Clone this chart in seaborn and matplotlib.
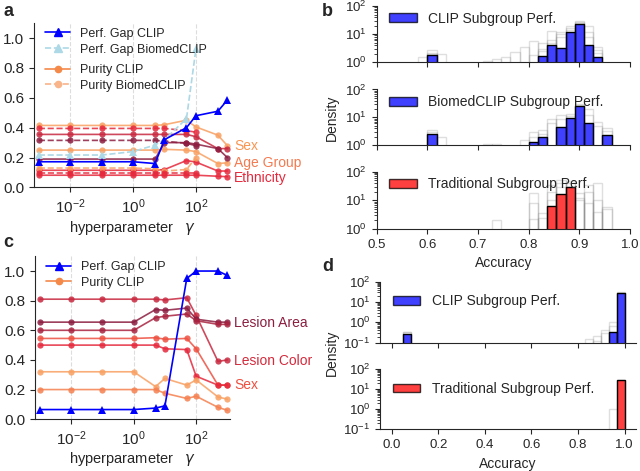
import numpy as np
import matplotlib
matplotlib.use("Agg")
import matplotlib.pyplot as plt
import matplotlib.transforms as mtransforms
from matplotlib.patches import Patch
from matplotlib.lines import Line2D
from matplotlib.ticker import NullLocator
import seaborn as sns

sns.set_style("ticks")
plt.rcParams['font.family'] = ['Liberation Sans', 'DejaVu Sans']
plt.rcParams['xtick.labelsize'] = 9.5
plt.rcParams['ytick.labelsize'] = 9.5

# ---------------- panel a / c data ----------------
gamma = [1e-3, 1e-2, 1e-1, 1, 5, 10, 50, 100, 500, 1000]
gamma_biomed = gamma[:8]

gap_clip_a = [0.172, 0.172, 0.172, 0.172, 0.16, 0.32, 0.40, 0.48, 0.51, 0.585]
gap_biomed_a = [0.217, 0.217, 0.217, 0.24, 0.284, 0.32, 0.46, 0.926]

# purity, CLIP (solid)
pur_a_sex1 = [0.415, 0.415, 0.415, 0.415, 0.415, 0.42, 0.45, 0.405, 0.35, 0.28]
pur_a_sex2 = [0.25, 0.25, 0.25, 0.25, 0.25, 0.255, 0.25, 0.24, 0.16, 0.165]
pur_a_age1 = [0.355, 0.355, 0.355, 0.355, 0.355, 0.355, 0.355, 0.34, 0.26, 0.26]
pur_a_age2 = [0.19, 0.19, 0.19, 0.19, 0.19, 0.30, 0.30, 0.29, 0.26, 0.20]
pur_a_eth1 = [0.115, 0.115, 0.115, 0.115, 0.115, 0.12, 0.18, 0.17, 0.11, 0.11]
pur_a_eth2 = [0.082, 0.082, 0.082, 0.082, 0.082, 0.082, 0.082, 0.082, 0.075, 0.072]
# purity, BiomedCLIP (dashed)
pur_a_sex_bm = [0.13, 0.13, 0.13, 0.13, 0.125, 0.11, 0.12, 0.20]
pur_a_age1_bm = [0.395, 0.395, 0.395, 0.395, 0.395, 0.395, 0.38, 0.37]
pur_a_age2_bm = [0.315, 0.315, 0.315, 0.315, 0.315, 0.31, 0.295, 0.28]
pur_a_eth_bm = [0.10, 0.10, 0.10, 0.10, 0.10, 0.10, 0.10, 0.10]

gap_clip_c = [0.065, 0.065, 0.065, 0.065, 0.075, 0.09, 0.95, 1.0, 1.0, 0.97]
pur_c_color = [0.81, 0.81, 0.81, 0.81, 0.81, 0.805, 0.82, 0.70, 0.39, 0.40]
pur_c_area1 = [0.655, 0.655, 0.655, 0.655, 0.74, 0.735, 0.75, 0.675, 0.655, 0.655]
pur_c_area2 = [0.60, 0.60, 0.60, 0.60, 0.685, 0.695, 0.71, 0.665, 0.64, 0.64]
pur_c_sex1 = [0.545, 0.545, 0.545, 0.545, 0.55, 0.54, 0.545, 0.475, 0.23, 0.23]
pur_c_sex2 = [0.50, 0.50, 0.50, 0.50, 0.50, 0.475, 0.47, 0.29, 0.23, 0.23]
pur_c_oth1 = [0.32, 0.32, 0.32, 0.32, 0.22, 0.275, 0.23, 0.265, 0.15, 0.135]
pur_c_oth2 = [0.20, 0.20, 0.20, 0.20, 0.20, 0.175, 0.14, 0.155, 0.08, 0.06]

labels_a = ['Sex', 'Age Group', 'Ethnicity']
labels_a_y = [0.28, 0.165, 0.06]
labels_c = ['Lesion Area', 'Lesion Color', 'Sex']
labels_c_y = [0.65, 0.395, 0.23]

# ---------------- panel b / d data (bin centres, densities) ----------------
clip_acc_b = [0.609, 0.827, 0.845, 0.864, 0.882, 0.900, 0.918, 0.936]
clip_dens_b = [1.8, 1.7, 4.2, 3.2, 11.8, 23.4, 4.2, 1.5]
biomed_acc_b = [0.609, 0.809, 0.827, 0.864, 0.882, 0.900, 0.918, 0.955]
biomed_dens_b = [2.6, 1.3, 1.9, 4.6, 9.6, 25, 6.4, 2.4]
trad_acc_b = [0.845, 0.864, 0.882]
trad_dens_b = [6.6, 17, 29.6]

clip_gray_b = [
    ([0.591, 0.609, 0.627, 0.809, 0.827, 0.845, 0.864, 0.882, 0.900, 0.918, 0.936],
     [1.6, 2.8, 1.9, 5.9, 4.8, 13, 12, 20, 30, 19, 3.6]),
    ([0.609, 0.718, 0.736, 0.755, 0.773, 0.791, 0.809, 0.827, 0.845, 0.864, 0.882, 0.900, 0.918, 0.936],
     [2.2, 1.1, 1.3, 1.6, 2.4, 3.4, 1.8, 2.5, 6, 8, 16, 27, 12, 2.8]),
    ([0.609, 0.827, 0.845, 0.864, 0.882, 0.900, 0.918, 0.936],
     [2.0, 3, 5, 10, 14, 25, 8, 2.2]),
]
biomed_gray_b = [
    ([0.609, 0.627, 0.809, 0.827, 0.845, 0.864, 0.882, 0.900, 0.918, 0.936, 0.955],
     [3.5, 2.0, 3.0, 3.5, 9, 12, 13, 30, 20, 7, 4.2]),
    ([0.609, 0.718, 0.736, 0.791, 0.809, 0.827, 0.845, 0.864, 0.882, 0.900, 0.918, 0.936, 0.955],
     [3, 1.1, 1.05, 1.5, 2, 2.5, 6, 9, 11, 27, 12, 5, 3.2]),
]
trad_gray_b = [
    ([0.736, 0.809, 0.827, 0.845, 0.864, 0.882, 0.900, 0.918, 0.936, 0.955],
     [2.0, 18, 3.5, 35, 50, 48, 18, 34, 40, 6]),
    ([0.809, 0.827, 0.845, 0.864, 0.882, 0.900, 0.918, 0.936, 0.955],
     [2.3, 2.5, 10, 30, 40, 10, 20, 10, 5]),
    ([0.809, 0.845, 0.864, 0.882, 0.900, 0.918, 0.936],
     [8, 20, 40, 30, 12, 8, 4]),
]

clip_acc_d = [0.067, 0.949, 0.983]
clip_dens_d = [0.28, 0.35, 29]
trad_acc_d = [0.983]
trad_dens_d = [29]
clip_gray_d = [
    ([0.067, 0.847, 0.881, 0.915, 0.949, 0.983], [0.35, 0.15, 0.21, 0.42, 1.0, 30]),
    ([0.067, 0.881, 0.915, 0.949, 0.983], [0.32, 0.12, 0.3, 0.66, 28]),
]
trad_gray_d = [
    ([0.949, 0.983], [1.0, 30]),
]

# bin edges as plain lists (seaborn compares bins with "auto")
edges_b = list(0.6 + (0.4 / 22) * np.arange(-3, 23))
edges_d = list(0.05 + (0.95 / 28) * np.arange(0, 29))

maroon = '#8c1d40'
crimson = '#c8283f'
red = '#e6283c'
redorange = '#ee5040'
orange = '#f58050'
lightorange = '#f9a062'

fig = plt.figure(figsize=(6.4, 4.71), dpi=100)


def line(ax, x, y, color, ls='-', marker='o', ms=4.5, alpha=0.85):
    sns.lineplot(x=x, y=y, ax=ax, color=color, linestyle=ls, marker=marker,
                 markersize=ms, markeredgewidth=0, alpha=alpha, linewidth=1.2)


def style_gamma_axis(ax):
    ax.set_xscale('log')
    ax.set_xlim(7e-4, 1.25e3)
    ax.set_ylim(0, 1.1)
    ax.set_xticks([1e-2, 1, 1e2])
    ax.xaxis.set_minor_locator(NullLocator())
    ax.set_yticks([0, 0.2, 0.4, 0.6, 0.8, 1.0])
    ax.set_yticklabels(['0.0', '0.2', '0.4', '0.6', '0.8', '1.0'])
    ax.tick_params(labelsize=11)
    ax.grid(axis='x', linestyle='--', color='#dddddd', linewidth=0.8)
    ax.set_xlabel(r'hyperparameter   $\gamma$', fontsize=10.5, labelpad=2)
    ax.set_ylabel('')
    sns.despine(ax=ax)


def gamma_legend(ax, handles, labels, y):
    return ax.legend(handles=handles, labels=labels, loc='upper left',
                     bbox_to_anchor=(0.0, y), frameon=False, fontsize=9,
                     handlelength=2.0, handletextpad=0.8, labelspacing=0.3)


# ---------------- panel a ----------------
ax_a = fig.add_axes([0.053, 0.602, 0.307, 0.349])
for vals, col in [(pur_a_sex1, lightorange), (pur_a_sex2, lightorange),
                  (pur_a_age1, crimson), (pur_a_age2, maroon),
                  (pur_a_eth1, red), (pur_a_eth2, red)]:
    line(ax_a, gamma, vals, col)
for vals, col in [(pur_a_sex_bm, lightorange), (pur_a_age1_bm, red),
                  (pur_a_age2_bm, maroon), (pur_a_eth_bm, red)]:
    line(ax_a, gamma_biomed, vals, col, ls='--')
line(ax_a, gamma_biomed, gap_biomed_a, '#add8e6', ls='--', marker='^', ms=5.5, alpha=1)
line(ax_a, gamma, gap_clip_a, 'blue', marker='^', ms=5.5, alpha=1)
style_gamma_axis(ax_a)

tr_a = mtransforms.blended_transform_factory(ax_a.transAxes, ax_a.transData)
for lab, yv, col in zip(labels_a, labels_a_y, ['#f99550', '#f47a50', red]):
    ax_a.text(1.02, yv, lab, transform=tr_a, color=col, fontsize=10, va='center')

leg1 = gamma_legend(ax_a, [
    Line2D([], [], color='blue', marker='^', ms=5.5, lw=1.2),
    Line2D([], [], color='#add8e6', ls='--', marker='^', ms=5.5, lw=1.2)],
    ['Perf. Gap CLIP', 'Perf. Gap BiomedCLIP'], 1.04)
ax_a.add_artist(leg1)
gamma_legend(ax_a, [
    Line2D([], [], color='#f4894a', marker='o', ms=4.5, lw=1.2),
    Line2D([], [], color='#f9b48a', ls='--', marker='o', ms=4.5, lw=1.2)],
    ['Purity CLIP', 'Purity BiomedCLIP'], 0.82)

# ---------------- panel c ----------------
ax_c = fig.add_axes([0.055, 0.110, 0.305, 0.346])
for vals, col in [(pur_c_color, crimson), (pur_c_area1, maroon),
                  (pur_c_area2, '#a8233f'), (pur_c_sex1, redorange),
                  (pur_c_sex2, red), (pur_c_oth1, lightorange),
                  (pur_c_oth2, orange)]:
    line(ax_c, gamma, vals, col)
line(ax_c, gamma, gap_clip_c, 'blue', marker='^', ms=5.5, alpha=1)
style_gamma_axis(ax_c)

tr_c = mtransforms.blended_transform_factory(ax_c.transAxes, ax_c.transData)
for lab, yv, col in zip(labels_c, labels_c_y, [maroon, '#d42a3c', redorange]):
    ax_c.text(1.02, yv, lab, transform=tr_c, color=col, fontsize=10, va='center')

gamma_legend(ax_c, [
    Line2D([], [], color='blue', marker='^', ms=5.5, lw=1.2),
    Line2D([], [], color='#f4894a', marker='o', ms=4.5, lw=1.2)],
    ['Perf. Gap CLIP', 'Purity CLIP'], 1.04)


# ---------------- histogram panels ----------------
def hist_panel(ax, gray_sets, acc, dens, edges, color, label, ylim, xlim,
               show_x, leg_y):
    for g_acc, g_dens in gray_sets:
        sns.histplot(x=g_acc, weights=g_dens, bins=edges, ax=ax, fill=False,
                     color='gray', alpha=0.25, linewidth=1)
    sns.histplot(x=acc, weights=dens, bins=edges, ax=ax, color=color,
                 alpha=0.75, edgecolor='black', linewidth=1)
    ax.set_yscale('log')
    ax.set_ylim(*ylim)
    ax.set_xlim(*xlim)
    ax.set_ylabel('')
    ax.set_xlabel('')
    if not show_x:
        ax.tick_params(axis='x', labelbottom=False)
    ax.legend(handles=[Patch(facecolor=color, alpha=0.75, edgecolor='black')],
              labels=[label], loc='upper left', frameon=False, fontsize=10,
              handlelength=2.0, handleheight=0.6, handletextpad=0.8,
              bbox_to_anchor=(0.0, leg_y))
    sns.despine(ax=ax)


ax_b1 = fig.add_axes([0.5886, 0.8677, 0.396, 0.1195])
ax_b2 = fig.add_axes([0.5886, 0.692, 0.396, 0.118])
ax_b3 = fig.add_axes([0.5886, 0.5138, 0.396, 0.1217])
hist_panel(ax_b1, clip_gray_b, clip_acc_b, clip_dens_b, edges_b, 'blue',
           'CLIP Subgroup Perf.', (1, 100), (0.5, 1.0), False, 1.12)
hist_panel(ax_b2, biomed_gray_b, biomed_acc_b, biomed_dens_b, edges_b, 'blue',
           'BiomedCLIP Subgroup Perf.', (1, 100), (0.5, 1.0), False, 1.12)
hist_panel(ax_b3, trad_gray_b, trad_acc_b, trad_dens_b, edges_b, 'red',
           'Traditional Subgroup Perf.', (1, 100), (0.5, 1.0), True, 1.12)
for a in (ax_b1, ax_b2, ax_b3):
    a.set_xticks([0.5, 0.6, 0.7, 0.8, 0.9, 1.0])
ax_b3.set_xlabel('Accuracy', fontsize=10)

ax_d1 = fig.add_axes([0.594, 0.2724, 0.40, 0.1295])
ax_d2 = fig.add_axes([0.594, 0.0885, 0.40, 0.1274])
hist_panel(ax_d1, clip_gray_d, clip_acc_d, clip_dens_d, edges_d, 'blue',
           'CLIP Subgroup Perf.', (0.1, 100), (-0.05, 1.05), False, 1.0)
hist_panel(ax_d2, trad_gray_d, trad_acc_d, trad_dens_d, edges_d, 'red',
           'Traditional Subgroup Perf.', (0.1, 100), (-0.05, 1.05), True, 1.0)
for a in (ax_d1, ax_d2):
    a.set_xticks([0.0, 0.2, 0.4, 0.6, 0.8, 1.0])
ax_d2.set_xlabel('Accuracy', fontsize=10)

fig.text(0.519, 0.75, 'Density', rotation=90, fontsize=10, ha='center', va='center')
fig.text(0.519, 0.25, 'Density', rotation=90, fontsize=10, ha='center', va='center')

# panel letters
fig.text(0.005, 0.975, 'a', fontsize=13, fontweight='bold', va='center')
fig.text(0.503, 0.975, 'b', fontsize=13, fontweight='bold', va='center')
fig.text(0.005, 0.485, 'c', fontsize=13, fontweight='bold', va='center')
fig.text(0.503, 0.435, 'd', fontsize=13, fontweight='bold', va='center')

fig.savefig('out.png', dpi=100)
